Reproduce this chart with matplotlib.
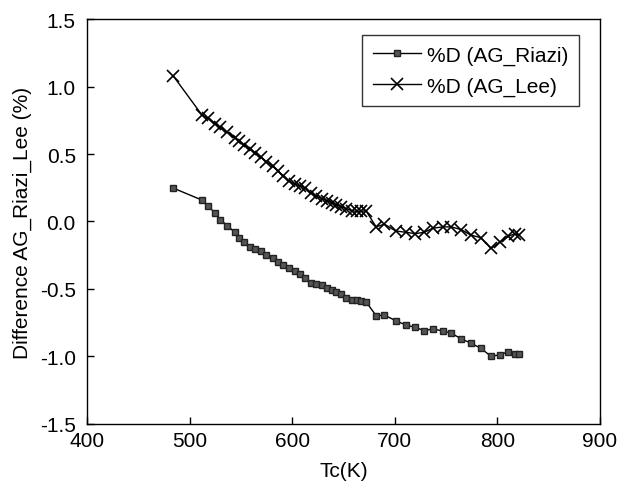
import matplotlib
matplotlib.use("Agg")
import matplotlib.pyplot as plt

plt.rcParams.update({
    "font.family": ["Liberation Sans", "DejaVu Sans"],
    "font.size": 15,
    "xtick.direction": "in",
    "ytick.direction": "in",
})

# Tc (K) of each compound, shared by both series
tc = [484, 512, 518, 525, 530, 537, 544, 548, 553, 559, 564, 570, 575, 581,
      586, 591, 597, 603, 608, 613, 618, 623, 629, 634, 639, 643, 648, 653,
      658, 663, 667, 672, 682, 690, 701, 711, 720, 729, 737, 747, 755, 765,
      774, 784, 794, 803, 811, 817, 821]

riazi = [0.248, 0.159, 0.117, 0.061, 0.013, -0.031, -0.080, -0.122, -0.154,
         -0.187, -0.204, -0.221, -0.248, -0.273, -0.302, -0.320, -0.344,
         -0.367, -0.389, -0.419, -0.458, -0.463, -0.470, -0.495, -0.507,
         -0.520, -0.537, -0.567, -0.581, -0.581, -0.591, -0.594, -0.698,
         -0.693, -0.735, -0.767, -0.784, -0.809, -0.796, -0.811, -0.826,
         -0.870, -0.900, -0.939, -0.999, -0.987, -0.964, -0.979, -0.984]

lee = [1.08, 0.79, 0.764, 0.724, 0.697, 0.660, 0.622, 0.596, 0.569, 0.539,
       0.508, 0.476, 0.443, 0.41, 0.375, 0.34, 0.30, 0.275, 0.265, 0.245,
       0.21, 0.19, 0.17, 0.154, 0.14, 0.125, 0.11, 0.095, 0.08, 0.075, 0.075,
       0.08, -0.04, -0.02, -0.07, -0.08, -0.09, -0.08, -0.05, -0.04, -0.04,
       -0.06, -0.10, -0.12, -0.20, -0.15, -0.11, -0.09, -0.10]

fig = plt.figure(figsize=(6.28, 4.89), dpi=100)
ax = fig.add_axes([0.1385, 0.131, 0.8165, 0.828])

ax.plot(tc, riazi, color="black", linewidth=1.0, marker="s", markersize=4,
        markerfacecolor="#555555", markeredgecolor="#222222",
        markeredgewidth=1.0, label="%D (AG_Riazi)")
ax.plot(tc, lee, color="black", linewidth=1.0, marker="x", markersize=8,
        markeredgewidth=1.2, label="%D (AG_Lee)")

ax.set_xlim(400, 900)
ax.set_ylim(-1.5, 1.5)
ax.set_xticks([400, 500, 600, 700, 800, 900])
ax.set_yticks([-1.5, -1.0, -0.5, 0.0, 0.5, 1.0, 1.5])
ax.set_yticklabels(["-1.5", "-1.0", "-0.5", "0.0", "0.5", "1.0", "1.5"])
ax.tick_params(axis="x", length=5, width=1, pad=5)
ax.tick_params(axis="y", length=5, width=1, pad=8)
for s in ax.spines.values():
    s.set_linewidth(1.0)

ax.set_xlabel("Tc(K)", labelpad=8)
ax.set_ylabel("Difference AG_Riazi_Lee (%)", labelpad=6)

leg = ax.legend(loc="upper right", bbox_to_anchor=(0.959, 0.96),
                frameon=True, fancybox=False, edgecolor="black",
                handlelength=2.3, borderpad=0.5, labelspacing=0.55,
                handletextpad=0.3, borderaxespad=0)
leg.get_frame().set_linewidth(1.0)

fig.savefig("out.png", dpi=100)
